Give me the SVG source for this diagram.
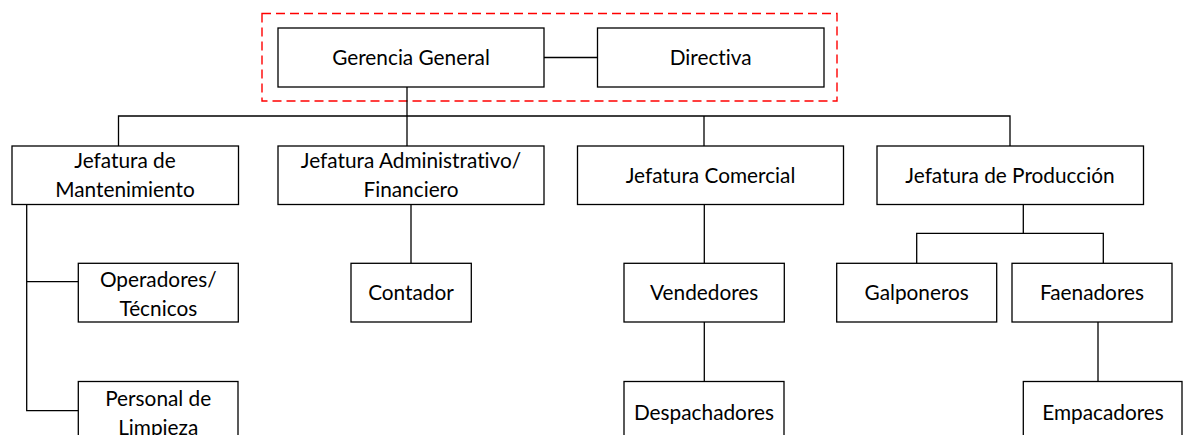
<svg xmlns="http://www.w3.org/2000/svg" width="1183" height="435" viewBox="0 0 1183 435">
<style>
.box{fill:#ffffff;stroke:#000000;stroke-width:1.3}
.ln{fill:none;stroke:#000000;stroke-width:1.3}
.grp{fill:none;stroke:#ff0000;stroke-width:1.4;stroke-dasharray:9 5}
text{font-family:Lato,"Liberation Sans",sans-serif;font-size:20.8px;fill:#000000;text-anchor:middle;font-variant-ligatures:none;font-feature-settings:"liga" 0,"clig" 0}
</style>
<rect width="1183" height="435" fill="#ffffff"/>
<rect class="grp" x="262" y="13.5" width="575" height="87.5"/>
<g id="connectors">
<path class="ln" d="M544 57.5H597.5"/>
<path class="ln" d="M407 87V146"/>
<path class="ln" d="M118.5 146V116H1010V146"/>
<path class="ln" d="M704 116V146"/>
<path class="ln" d="M26.7 204.5V410.7H78.3M26.7 281.7H78.3"/>
<path class="ln" d="M411 204.5V263.3"/>
<path class="ln" d="M704.3 204.5V381.5"/>
<path class="ln" d="M1023.3 204.5V233.3M916.7 263.3V233.3H1103.3V263.3"/>
<path class="ln" d="M1098 322V381.5"/>
</g>
<g id="gerencia"><rect class="box" x="278" y="28" width="266" height="59"/><text x="411" y="65">Gerencia General</text></g>
<g id="directiva"><rect class="box" x="597.5" y="28" width="226.5" height="59"/><text x="710.7" y="65">Directiva</text></g>
<g id="mantenimiento"><rect class="box" x="12" y="146" width="226.5" height="58.5"/><text x="125" y="168.3">Jefatura de</text><text x="125" y="197.3">Mantenimiento</text></g>
<g id="administrativo"><rect class="box" x="278" y="146" width="266" height="58.5"/><text x="411" y="168.3">Jefatura Administrativo/</text><text x="411" y="197.3">Financiero</text></g>
<g id="comercial"><rect class="box" x="577.5" y="146" width="266" height="58.5"/><text x="710.5" y="182.5">Jefatura Comercial</text></g>
<g id="produccion"><rect class="box" x="877" y="146" width="266.5" height="58.5"/><text x="1010" y="182.5">Jefatura de Producción</text></g>
<g id="operadores"><rect class="box" x="78.3" y="263.3" width="160" height="58.7"/><text x="158.3" y="287">Operadores/</text><text x="158.3" y="316.3">Técnicos</text></g>
<g id="contador"><rect class="box" x="351" y="263.3" width="120.3" height="58.7"/><text x="411" y="300.3">Contador</text></g>
<g id="vendedores"><rect class="box" x="624" y="263.3" width="160.3" height="58.7"/><text x="704.2" y="300.3">Vendedores</text></g>
<g id="galponeros"><rect class="box" x="836.7" y="263.3" width="160" height="58.7"/><text x="916.7" y="300.3">Galponeros</text></g>
<g id="faenadores"><rect class="box" x="1012" y="263.3" width="160" height="58.7"/><text x="1092" y="300.3">Faenadores</text></g>
<g id="personal"><rect class="box" x="78.3" y="381.5" width="159.7" height="70"/><text x="158.2" y="405.5">Personal de</text><text x="158.2" y="434.8">Limpieza</text></g>
<g id="despachadores"><rect class="box" x="624" y="381.5" width="160" height="70"/><text x="704" y="420">Despachadores</text></g>
<g id="empacadores"><rect class="box" x="1023.3" y="381.5" width="158.7" height="70"/><text x="1103" y="420">Empacadores</text></g>
</svg>
